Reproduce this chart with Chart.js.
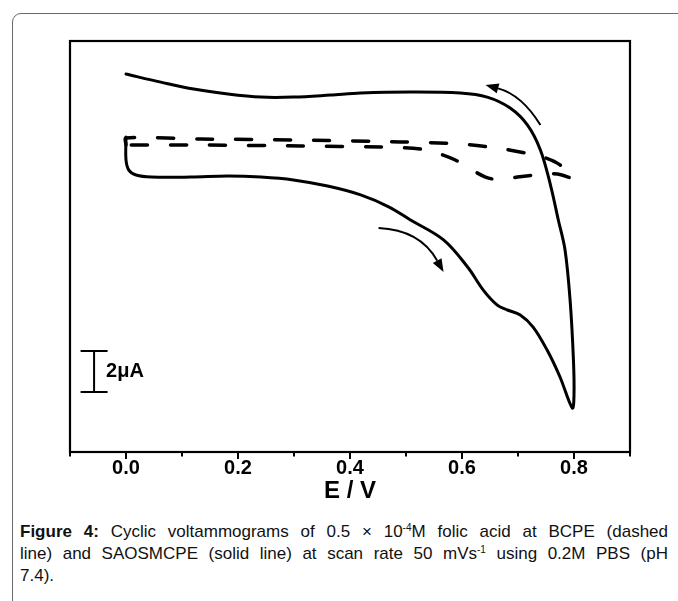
<!DOCTYPE html>
<html>
<head>
<meta charset="utf-8">
<script src="https://cdn.jsdelivr.net/npm/chart.js@4.4.1/dist/chart.umd.min.js"></script>
<style>
  html, body { margin: 0; padding: 0; background: #fff; overflow: hidden; }
  body { width: 678px; height: 601px; position: relative; font-family: "Liberation Sans", Arial, sans-serif; }
  #frame {
    position: absolute; left: 12px; top: 13px; width: 720px; height: 640px;
    border: 1.5px solid #6a6a6a; border-top-left-radius: 9px; box-sizing: border-box;
  }
  #wrap { position: absolute; left: 0; top: 0; width: 678px; height: 507px; }
  #caption {
    position: absolute; left: 20px; top: 521px; width: 648px;
    font-size: 17px; line-height: 22px; color: #111;
  }
  #caption .ln { display: block; text-align: justify; text-align-last: justify; white-space: nowrap; }
  #caption .last { text-align: left; text-align-last: left; }
  #caption sup { font-size: 10px; line-height: 0; vertical-align: 6px; }
</style>
</head>
<body>
<div id="frame"></div>
<div id="wrap"><canvas id="cv"></canvas></div>
<div id="caption">
  <span class="ln"><b>Figure 4:</b> Cyclic voltammograms of 0.5 × 10<sup>-4</sup>M folic acid at BCPE (dashed</span>
  <span class="ln">line) and SAOSMCPE (solid line) at scan rate 50 mVs<sup>-1</sup> using 0.2M PBS (pH</span>
  <span class="ln last">7.4).</span>
</div>
<script>
// Potential axis (V) and tick labels
const xTickLabels = ["0.0", "0.2", "0.4", "0.6", "0.8"];

// SAOSMCPE (solid line): forward scan then reverse scan, current in µA
const solidE = [0.000, 0.000, 0.005, 0.018, 0.045, 0.116, 0.182, 0.241, 0.299, 0.360, 0.419, 0.470,
  0.508, 0.567, 0.610, 0.638, 0.663, 0.681, 0.704, 0.727, 0.752, 0.775, 0.797,
  0.800, 0.799, 0.793, 0.784, 0.772, 0.758, 0.740, 0.717, 0.686, 0.645, 0.597, 0.508,
  0.419, 0.365, 0.299, 0.241, 0.182, 0.121, 0.062, 0.000];
const solidI = [5.33, 4.21, 3.72, 3.48, 3.38, 3.38, 3.43, 3.38, 3.24, 2.94, 2.51, 1.92,
  1.29, 0.32, -1.00, -2.12, -2.85, -3.09, -3.33, -3.92, -5.04, -6.35, -7.86,
  -7.23, -5.52, -2.60, -0.17, 1.29, 2.99, 4.70, 5.91, 6.74, 7.27, 7.47, 7.52,
  7.47, 7.37, 7.27, 7.27, 7.42, 7.66, 8.00, 8.39];

// BCPE (dashed line)
const dashedE = [0.000, 0.000, 0.134, 0.312, 0.490, 0.597, 0.663, 0.713, 0.749, 0.775, 0.799,
  0.770, 0.731, 0.699, 0.668, 0.642, 0.615, 0.588, 0.561, 0.526, 0.455, 0.312, 0.134, 0.000];
const dashedI = [4.94, 5.28, 5.23, 5.18, 5.09, 4.99, 4.79, 4.55, 4.31, 3.97, 3.33,
  3.53, 3.48, 3.38, 3.24, 3.38, 3.77, 4.21, 4.50, 4.74, 4.84, 4.89, 4.94, 4.94];

// Scan-direction arrows: tail, mid, tip (E, I)
const arrowReverse = [[0.740, 5.91], [0.699, 7.13], [0.642, 7.86]];
const arrowForward = [[0.451, 0.90], [0.517, 0.32], [0.567, -1.24]];

// Current scale bar
const scaleBarE = -0.057;
const scaleBarBottom = -7.08;
const scaleBarSize = 2;
const scaleBarLabel = "2μA";

const toPts = (xs, ys) => xs.map((x, i) => ({ x: x, y: ys[i] }));

const FONT = '"Liberation Sans", Arial, sans-serif';

function drawArrow(ctx, xs, ys, pts) {
  const p = pts.map(d => [xs.getPixelForValue(d[0]), ys.getPixelForValue(d[1])]);
  const [a, m, b] = p;
  // quadratic control point so the curve passes through the middle point
  const c = [2 * m[0] - (a[0] + b[0]) / 2, 2 * m[1] - (a[1] + b[1]) / 2];
  const ang = Math.atan2(b[1] - c[1], b[0] - c[0]);
  const L = 13, W = 5;
  const base = [b[0] - L * Math.cos(ang), b[1] - L * Math.sin(ang)];
  ctx.save();
  ctx.strokeStyle = '#000';
  ctx.fillStyle = '#000';
  ctx.lineWidth = 2;
  ctx.beginPath();
  ctx.moveTo(a[0], a[1]);
  ctx.quadraticCurveTo(c[0], c[1], base[0], base[1]);
  ctx.stroke();
  ctx.beginPath();
  ctx.moveTo(b[0], b[1]);
  ctx.lineTo(base[0] + W * Math.sin(ang), base[1] - W * Math.cos(ang));
  ctx.lineTo(base[0] - W * Math.sin(ang), base[1] + W * Math.cos(ang));
  ctx.closePath();
  ctx.fill();
  ctx.restore();
}

const decorations = {
  id: 'decorations',
  afterDatasetsDraw(chart) {
    const { ctx, chartArea: ca, scales } = chart;
    const xs = scales.x, ys = scales.y;
    ctx.save();
    // plot frame
    ctx.strokeStyle = '#000';
    ctx.lineWidth = 2.2;
    ctx.strokeRect(ca.left, ca.top, ca.right - ca.left, ca.bottom - ca.top);
    // bottom axis ticks (major every 0.2, minor in between)
    ctx.lineWidth = 2;
    for (let k = -1; k <= 9; k++) {
      const px = xs.getPixelForValue(k / 10);
      const major = k >= 0 && k % 2 === 0;
      ctx.beginPath();
      ctx.moveTo(px, ca.bottom);
      ctx.lineTo(px, ca.bottom + (major ? 7 : 4.5));
      ctx.stroke();
    }
    // scale bar
    const sx = xs.getPixelForValue(scaleBarE);
    const sy0 = ys.getPixelForValue(scaleBarBottom);
    const sy1 = ys.getPixelForValue(scaleBarBottom + scaleBarSize);
    ctx.lineWidth = 2;
    ctx.beginPath();
    ctx.moveTo(sx, sy0); ctx.lineTo(sx, sy1);
    ctx.moveTo(sx - 13.5, sy0); ctx.lineTo(sx + 13.5, sy0);
    ctx.moveTo(sx - 13.5, sy1); ctx.lineTo(sx + 13.5, sy1);
    ctx.stroke();
    ctx.fillStyle = '#000';
    ctx.font = 'bold 20px ' + FONT;
    ctx.textBaseline = 'middle';
    ctx.textAlign = 'left';
    ctx.fillText(scaleBarLabel, sx + 12, (sy0 + sy1) / 2);
    ctx.restore();
    drawArrow(ctx, xs, ys, arrowReverse);
    drawArrow(ctx, xs, ys, arrowForward);
  }
};

new Chart(document.getElementById('cv'), {
  type: 'scatter',
  data: {
    datasets: [
      {
        label: 'SAOSMCPE',
        data: toPts(solidE, solidI),
        showLine: true, borderColor: '#000', borderWidth: 3, pointRadius: 0,
        tension: 0.35, borderCapStyle: 'round', borderJoinStyle: 'round'
      },
      {
        label: 'BCPE',
        data: toPts(dashedE, dashedI),
        showLine: true, borderColor: '#000', borderWidth: 3.5, pointRadius: 0,
        tension: 0.3, borderDash: [16, 23], borderCapStyle: 'round', borderJoinStyle: 'round'
      }
    ]
  },
  options: {
    responsive: true,
    maintainAspectRatio: false,
    animation: false,
    layout: { padding: { left: 70, right: 48, top: 41, bottom: 4 } },
    plugins: { legend: { display: false }, tooltip: { enabled: false } },
    scales: {
      x: {
        type: 'linear', min: -0.1, max: 0.9,
        grid: { display: false, drawTicks: false },
        border: { display: false },
        ticks: {
          stepSize: 0.1, autoSkip: false, maxRotation: 0, padding: 4,
          color: '#000', font: { family: FONT, size: 20, weight: 'bold' },
          callback: (v) => {
            const k = Math.round(v * 10);
            return (k >= 0 && k % 2 === 0) ? xTickLabels[k / 2] : '';
          }
        },
        title: {
          display: true, text: 'E / V', color: '#000',
          font: { family: FONT, size: 24, weight: 'bold', lineHeight: 1 },
          padding: { top: -5, bottom: 0 }
        }
      },
      y: { type: 'linear', min: -10, max: 10, display: false }
    }
  },
  plugins: [decorations]
});
</script>
</body>
</html>
